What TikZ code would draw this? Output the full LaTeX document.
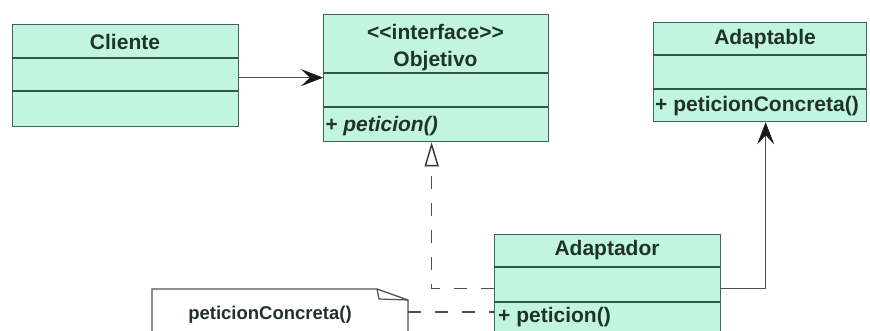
\documentclass[tikz,border=0pt]{standalone}
\usepackage{fontspec}
\setmainfont{Liberation Sans}
\usetikzlibrary{arrows.meta}
\definecolor{umlfill}{HTML}{C2F5DF}
\definecolor{umlline}{HTML}{3F6656}
\definecolor{umldiv}{HTML}{2E5A46}
\definecolor{umltext}{HTML}{1F3329}
\definecolor{conn}{HTML}{505050}
\begin{document}
\begin{tikzpicture}[x=1pt,y=-1pt,
  classbox/.style={draw=umlline, fill=umlfill, line width=1.3pt, inner sep=0pt,
    anchor=north west, rectangle},
  divider/.style={draw=umldiv, line width=1.3pt},
  cname/.style={text=umltext, font=\fontsize{21}{24}\selectfont\bfseries, inner sep=0pt},
  member/.style={text=umltext, font=\fontsize{21}{24}\selectfont\bfseries, inner sep=0pt, anchor=west},
  assoc/.style={draw=conn, line width=1.5pt,
    -{Stealth[length=22pt,width=17pt,inset=9pt,color=black!90,line width=0.6pt]}},
  realize/.style={draw=conn, line width=1.5pt, dash pattern=on 13pt off 14pt,
    -{Triangle[open,length=24pt,width=14pt,fill=white,line width=1.4pt,color=black!80]}},
  depline/.style={draw=conn, line width=1.5pt, dash pattern=on 13pt off 14pt},
  notebox/.style={inner sep=0pt, anchor=north west, rectangle},
]
\clip (0,0) rectangle (870,331);
\fill[white] (0,0) rectangle (870,331);

% Cliente
\node[classbox, minimum width=226pt, minimum height=102pt] (cliente) at (12,24) {};
\draw[divider] (12,58) -- (238,58);
\draw[divider] (12,91) -- (238,91);
\node[cname] (clienteName) at (125,42) {Cliente};

% Objetivo
\node[classbox, minimum width=225pt, minimum height=127pt] (objetivo) at (323,14) {};
\draw[divider] (323,73) -- (548,73);
\draw[divider] (323,107) -- (548,107);
\node[cname] (objStereo) at (435.5,32) {{<}{<}interface{>}{>}};
\node[cname] (objName) at (435.5,61) {Objetivo};
\node[member, font=\fontsize{21}{24}\selectfont\bfseries\itshape] (objOp) at (325,126) {+ peticion()};

% Adaptable
\node[classbox, minimum width=213pt, minimum height=99pt] (adaptable) at (653,22) {};
\draw[divider] (653,55) -- (866,55);
\draw[divider] (653,89) -- (866,89);
\node[cname] (adaptableName) at (765,39) {Adaptable};
\node[member] (adaptableOp) at (655,106) {+ peticionConcreta()};

% Adaptador
\node[classbox, minimum width=226pt, minimum height=108pt] (adaptador) at (494,234) {};
\draw[divider] (494,267) -- (720,267);
\draw[divider] (494,302) -- (720,302);
\node[cname] (adaptadorName) at (607,250) {Adaptador};
\node[member] (adaptadorOp) at (498,317) {+ peticion()};

% Note
\node[notebox, minimum width=256pt, minimum height=56pt] (note) at (152,289) {};
\draw[draw=conn, fill=white, line width=1.3pt]
  (152,345) -- (152,289) -- (377,289) -- (408,300) -- (408,345);
\draw[draw=conn, line width=1.2pt] (377,289) -- (379,299) -- (408,300);
\node[text=umltext, font=\fontsize{18.5}{22}\selectfont\bfseries, inner sep=0pt]
  (noteText) at (270,315) {peticionConcreta()};

% Connectors
\draw[assoc] ([yshift=-2pt]cliente.east) -- ([yshift=-2pt]cliente.east -| objetivo.west);
\draw[realize] (adaptador.west) -| ([xshift=-4.5pt]objetivo.south);
\draw[assoc] (adaptador.east) -| ([xshift=5.5pt]adaptable.south);
\draw[depline] ([yshift=5pt]note.east) -- ([yshift=5pt]note.east -| adaptador.west);
\end{tikzpicture}
\end{document}
